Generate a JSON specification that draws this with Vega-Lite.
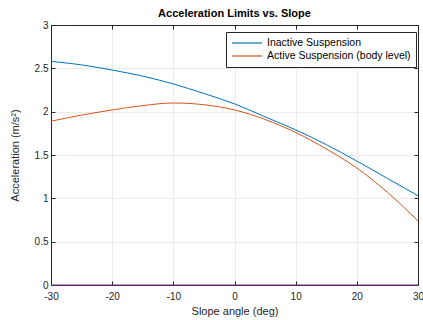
{
  "$schema": "https://vega.github.io/schema/vega-lite/v6.json",
  "width": 367,
  "height": 260,
  "autosize": "none",
  "padding": {"left": 51, "top": 25, "right": 5, "bottom": 35},
  "background": "white",
  "title": {"text": "Acceleration Limits vs. Slope", "fontSize": 11, "font": "Liberation Sans", "fontWeight": "bold", "color": "#000000", "offset": 1},
  "config": {
    "view": {"stroke": "#262626", "strokeWidth": 1},
    "axis": {"labelFont": "Liberation Sans", "titleFont": "Liberation Sans", "labelFontSize": 10, "titleFontSize": 11, "titleFontWeight": "normal", "labelColor": "#262626", "titleColor": "#262626", "domainColor": "#262626", "tickColor": "#262626", "gridColor": "#ebebeb", "gridWidth": 1, "labelFlush": false}
  },
  "datasets": {
    "curves": [
      {"angle": -30, "accel": 2.58, "series": "Inactive Suspension"},
      {"angle": -25, "accel": 2.54, "series": "Inactive Suspension"},
      {"angle": -20, "accel": 2.48, "series": "Inactive Suspension"},
      {"angle": -15, "accel": 2.41, "series": "Inactive Suspension"},
      {"angle": -10, "accel": 2.32, "series": "Inactive Suspension"},
      {"angle": -5, "accel": 2.21, "series": "Inactive Suspension"},
      {"angle": 0, "accel": 2.09, "series": "Inactive Suspension"},
      {"angle": 5, "accel": 1.94, "series": "Inactive Suspension"},
      {"angle": 10, "accel": 1.79, "series": "Inactive Suspension"},
      {"angle": 15, "accel": 1.62, "series": "Inactive Suspension"},
      {"angle": 20, "accel": 1.43, "series": "Inactive Suspension"},
      {"angle": 25, "accel": 1.23, "series": "Inactive Suspension"},
      {"angle": 30, "accel": 1.03, "series": "Inactive Suspension"},
      {"angle": -30, "accel": 1.89, "series": "Active Suspension (body level)"},
      {"angle": -25, "accel": 1.96, "series": "Active Suspension (body level)"},
      {"angle": -20, "accel": 2.02, "series": "Active Suspension (body level)"},
      {"angle": -15, "accel": 2.07, "series": "Active Suspension (body level)"},
      {"angle": -10, "accel": 2.1, "series": "Active Suspension (body level)"},
      {"angle": -5, "accel": 2.08, "series": "Active Suspension (body level)"},
      {"angle": 0, "accel": 2.02, "series": "Active Suspension (body level)"},
      {"angle": 5, "accel": 1.91, "series": "Active Suspension (body level)"},
      {"angle": 10, "accel": 1.76, "series": "Active Suspension (body level)"},
      {"angle": 15, "accel": 1.57, "series": "Active Suspension (body level)"},
      {"angle": 20, "accel": 1.35, "series": "Active Suspension (body level)"},
      {"angle": 25, "accel": 1.07, "series": "Active Suspension (body level)"},
      {"angle": 30, "accel": 0.74, "series": "Active Suspension (body level)"}
    ],
    "zero": [
      {"angle": -30, "accel": 0},
      {"angle": 30, "accel": 0}
    ]
  },
  "layer": [
    {
      "data": {"name": "curves"},
      "mark": {"type": "line", "strokeWidth": 1, "interpolate": "monotone", "clip": true},
      "encoding": {
        "x": {"field": "angle", "type": "quantitative", "scale": {"domain": [-30, 30], "nice": false, "zero": false},
              "axis": {"title": "Slope angle (deg)", "values": [-30, -20, -10, 0, 10, 20, 30], "labelExpr": "'' + datum.value", "tickSize": -4, "labelPadding": 10, "titlePadding": 4, "grid": true, "domain": true}},
        "y": {"field": "accel", "type": "quantitative", "scale": {"domain": [0, 3], "nice": false},
              "axis": {"title": "Acceleration (m/s²)", "values": [0, 0.5, 1, 1.5, 2, 2.5, 3], "labelExpr": "'' + datum.value", "tickSize": -4, "labelPadding": 7, "titlePadding": 14, "grid": true, "domain": true}},
        "stroke": {"field": "series", "type": "nominal",
                  "scale": {"domain": ["Inactive Suspension", "Active Suspension (body level)"], "range": ["#0072BD", "#D95319"]},
                  "legend": {"title": null, "orient": "none", "legendX": 175, "legendY": 7, "direction": "vertical",
                             "symbolType": "M-3,0H3", "symbolSize": 100, "symbolStrokeWidth": 1.2, "symbolOffset": 10, "labelFont": "Liberation Sans", "labelFontSize": 10.5, "labelColor": "#000000",
                             "strokeColor": "#262626", "fillColor": "white", "padding": 5, "rowPadding": 1, "labelOffset": 14, "labelLimit": 300}}
      }
    },
    {
      "data": {"name": "zero"},
      "mark": {"type": "line", "strokeWidth": 1.2, "color": "#7E2F8E"},
      "encoding": {
        "x": {"field": "angle", "type": "quantitative", "scale": {"domain": [-30, 30], "nice": false, "zero": false},
              "axis": {"orient": "top", "title": null, "labels": false, "values": [-30, -20, -10, 0, 10, 20, 30], "tickSize": -4, "grid": false}},
        "y": {"field": "accel", "type": "quantitative", "scale": {"domain": [0, 3], "nice": false},
              "axis": {"orient": "right", "title": null, "labels": false, "values": [0, 0.5, 1, 1.5, 2, 2.5, 3], "tickSize": -4, "grid": false}}
      }
    }
  ],
  "resolve": {"axis": {"x": "independent", "y": "independent"}}
}
